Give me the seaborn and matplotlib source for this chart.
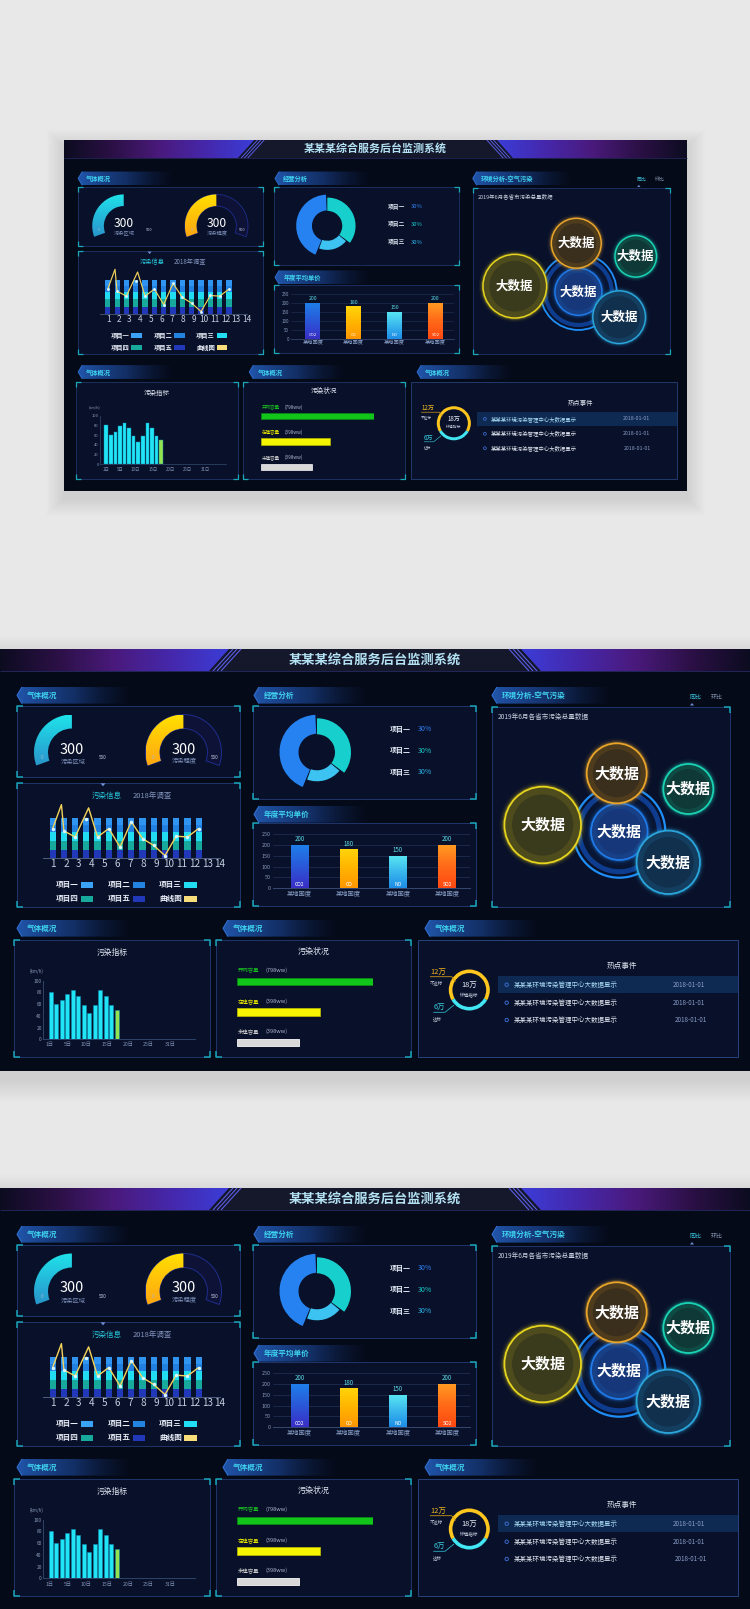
import numpy as np
import matplotlib
matplotlib.use("Agg")
import matplotlib.pyplot as plt
import seaborn as sns
import pandas as pd
from matplotlib.patches import Rectangle, Polygon, Wedge, Circle
from matplotlib.colors import LinearSegmentedColormap, to_rgba

sns.set_theme(style="dark")
plt.rcParams["font.family"] = ["Noto Sans CJK SC", "DejaVu Sans"]
plt.rcParams["axes.unicode_minus"] = False

W, H = 750, 1609

# ---------------- data ----------------
title_text = "某某某综合服务后台监测系统"
top_sections = ["气体概况", "经营分析", "环境分析-空气污染"]
mid_section = "年度平均单价"
bottom_sections = ["气体概况", "气体概况", "气体概况"]

gauge_values = [300, 300]
gauge_max = 500
gauge_names = ["污染区域", "污染程度"]

info_title = "污染信息"
info_year = "2018年调查"
info_ticks = ["1", "2", "3", "4", "5", "6", "7", "8", "9", "10", "11", "12", "13", "14"]
item1 = [19, 19, 19, 19, 19, 19, 19, 19, 19, 19, 19, 19, 19, 19]
item2 = [17, 17, 17, 17, 17, 17, 17, 17, 17, 17, 17, 17, 17, 17]
item3 = [21, 21, 21, 21, 21, 21, 21, 21, 21, 21, 21, 21, 21, 21]
item4 = [23, 23, 23, 23, 23, 23, 23, 23, 23, 23, 23, 23, 23, 23]
item5 = [20, 20, 20, 20, 20, 20, 20, 20, 20, 20, 20, 20, 20, 20]
legend_names = ["项目一", "项目二", "项目三", "项目四", "项目五", "曲线图"]
curve_pos = [0, 0.78, 1, 2, 3.2, 4, 5, 6, 7, 8, 9, 10, 11, 12, 13]
curve_vals = [73, 132, 67, 52, 124, 52, 73, 27, 90, 48, 31, 6, 54, 52, 73]
curve_dots = [73, 67, 52, 96, 52, 73, 27, 90, 48, 31, 6, 54, 52, 73]

donut_names = ["项目一", "项目二", "项目三"]
donut_shares = [44, 36, 20]
donut_pct = ["30%", "30%", "30%"]

price_cats = ["CO2", "CO", "NO", "SO2"]
price_vals = [200, 180, 150, 200]
price_regions = ["某地国度", "某地国度", "某地国度", "某地国度"]
price_ticks = [0, 50, 100, 150, 200, 250]

bubble_title = "2019年6月各省市污染总量数据"
bubble_tabs = ["同比", "环比"]
bubble_labels = ["大数据", "大数据", "大数据", "大数据", "大数据"]

index_title = "污染指标"
index_unit = "(km/h)"
index_vals = [80, 60, 67, 78, 84, 74, 58, 45, 58, 84, 74, 58, 50]
index_ticks = [0, 20, 40, 60, 80, 100]
index_days = ["1日", "5日", "10日", "15日", "20日", "25日", "31日"]

status_title = "污染状况"
status_names = ["开网容量", "在建容量", "未建容量"]
status_notes = ["(798ww)", "(398ww)", "(398ww)"]
status_fill = [100, 61, 45]

ring_vals = [12, 6]
ring_texts = ["12万", "6万"]
ring_subs = ["不达标", "达标"]
ring_total = "18万"
ring_total_label = "环境指标"

events_title = "热点事件"
events = ["某某某环境污染管理中心大数据显示", "某某某环境污染管理中心大数据显示", "某某某环境污染管理中心大数据显示"]
event_dates = ["2018-01-01", "2018-01-01", "2018-01-01"]

# ---------------- styling ----------------
PANEL_BG = "#050a18"
BOX_FC = "#09112a"
BOX_EC = "#1e3468"
CORNER = "#1aa7b8"
stack_colors = {"项目一": "#2f95f0", "项目二": "#2281e0", "项目三": "#22dcf2",
                "项目四": "#17a99b", "项目五": "#2138b9"}
legend_colors = ["#3aa3f5", "#2383e0", "#22dcf2", "#17a99b", "#2138b9", "#f7de7a"]
donut_colors = {"项目一": "#2682f0", "项目二": "#17d0cd", "项目三": "#3cc3f2"}
donut_radii = {"项目一": (18.5, 37.5), "项目二": (18, 34), "项目三": (18, 29)}
pct_colors = ["#2f7ff0", "#18c8c8", "#2ab2e6"]
price_grads = [["#1e80ea", "#2a58d8", "#3a2ec6"],
               ["#ffd60a", "#ffb400", "#ff9600"],
               ["#5ae8f2", "#3ab8ee", "#1e8ce6"],
               ["#ff9c22", "#ff6a18", "#ff4812"]]


def gcmap(colors):
    return LinearSegmentedColormap.from_list("g", colors)


fig = plt.figure(figsize=(W / 100, H / 100), dpi=100)
fig.patch.set_facecolor("#e8e8e8")
bg = fig.add_axes([0, 0, 1, 1])
bg.set_facecolor("none")
bg.axis("off")


def draw_dashboard(X0, Y0, s):
    def P(x, y):
        return (X0 + s * x, Y0 + s * y)

    def F(px):
        return px * s * 0.72

    def LW(px):
        return px * s * 0.72

    def rect(x0, y0, x1, y1):
        ax0, ay0 = P(x0, y0)
        ax1, ay1 = P(x1, y1)
        return [ax0 / W, 1 - ay1 / H, (ax1 - ax0) / W, (ay1 - ay0) / H]

    def txt(x, y, t, px, color, ha="center", va="center", weight="normal", z=20):
        X, Y = P(x, y)
        return bg.text(X, Y, t, fontsize=F(px), color=color, ha=ha, va=va,
                       fontweight=weight, zorder=z)

    def gimg(ext, colors, direction, patch, z):
        x0, y0, x1, y1 = ext
        A = P(x0, y0)
        B = P(x1, y1)
        v = np.linspace(0, 1, 256)
        img = v[None, :] if direction == "h" else v[:, None]
        im = bg.imshow(img, cmap=gcmap(colors), extent=(A[0], B[0], B[1], A[1]),
                       origin="upper", aspect="auto", interpolation="bilinear", zorder=z)
        bg.add_patch(patch)
        im.set_clip_path(patch)
        return im

    def vwedge(cx, cy, r, a1, a2, width=None, **kw):
        return Wedge(P(cx, cy), r * s, -a2, -a1,
                     width=None if width is None else width * s, **kw)

    def line(pts, color, lw, z=6):
        pp = [P(*p) for p in pts]
        bg.plot([p[0] for p in pp], [p[1] for p in pp], color=color, lw=LW(lw),
                zorder=z, solid_capstyle="butt")

    w, h = 750 * s, 422 * s
    # soft shadow, mostly below
    for k in range(12, 0, -1):
        d = k * 1.8 * s
        bg.add_patch(Rectangle((X0 - d, Y0 - d + 9 * s), w + 2 * d, h + 2 * d,
                               fc="black", ec="none", alpha=0.009, zorder=0))
    bg.add_patch(Rectangle((X0, Y0), w, h, fc=PANEL_BG, ec="none", zorder=1))

    # ---- title bar ----
    bg.add_patch(Rectangle(P(0, 0), w, 22 * s, fc="#15172b", ec="none", zorder=2))
    lcols = ["#0c0c20", "#2b1045", "#4a1a7c", "#4528ac", "#3b3dd8"]
    gimg((0, 0, 229, 22), lcols, "h",
         Polygon([P(0, 0), P(229, 0), P(209, 22), P(0, 22)], fc="none", ec="none"), 3)
    gimg((521, 0, 750, 22), lcols[::-1], "h",
         Polygon([P(521, 0), P(750, 0), P(750, 22), P(541, 22)], fc="none", ec="none"), 3)
    for off in (4, 8, 12):
        line([(229 + off, 0), (209 + off, 22)], "#5b5fe6", 1.1, 4)
        line([(521 - off, 0), (541 - off, 22)], "#5b5fe6", 1.1, 4)
    line([(0, 22), (750, 22)], "#25285e", 0.9, 4)
    txt(375, 11, title_text, 13.2, "#b3e2f2", weight="bold")

    # ---- section tabs ----
    def tab(x, y, wdt, label):
        hh = 16.6
        poly = Polygon([P(x, y + hh / 2), P(x + 5, y), P(x + wdt, y), P(x + wdt, y + hh),
                        P(x + 5, y + hh)], fc="none", ec="none")
        cols = [to_rgba("#2156ac", 1.0), to_rgba("#183c80", 0.75), to_rgba("#0f2452", 0.0)]
        gimg((x, y, x + wdt, y + hh), cols, "h", poly, 3)
        line([(x + 5, y), (x, y + hh / 2), (x + 5, y + hh)], "#3272d6", 1.0, 4)
        txt(x + 10, y + hh / 2, label, 7.6, "#3fd3f0", ha="left", weight="bold")

    tab(17, 38, 115, top_sections[0])
    tab(254, 38, 115, top_sections[1])
    tab(492, 38, 120, top_sections[2])
    tab(254, 157, 115, mid_section)
    tab(17, 271, 115, bottom_sections[0])
    tab(223, 271, 115, bottom_sections[1])
    tab(425, 271, 115, bottom_sections[2])

    # ---- boxes ----
    def box(x0, y0, x1, y1, corners=True, ec=BOX_EC):
        bg.add_patch(Rectangle(P(x0, y0), (x1 - x0) * s, (y1 - y0) * s, fc=BOX_FC,
                               ec=ec, lw=LW(1.0), zorder=2))
        if corners:
            L = 6
            for cx, cy, dx, dy in [(x0, y0, 1, 1), (x1, y0, -1, 1), (x0, y1, 1, -1), (x1, y1, -1, -1)]:
                line([(cx + dx * L, cy), (cx, cy), (cx, cy + dy * L)], CORNER, 1.5, 3)

    box(17, 57, 240, 128)
    box(17, 134, 240, 258)
    box(253, 57, 476, 150)
    box(253, 174, 476, 257)
    box(492, 58, 730, 258)
    box(14, 291, 210, 408)
    box(216, 291, 411, 408)
    box(418, 291, 738, 408, corners=False, ec="#26407a")

    # ---- gauges ----
    g_start, g_span = 200, 183
    gauge_cx = [72, 183.5]
    gauge_cols = [["#1fe3ea", "#27a7d4", "#2a76b6"], ["#ffe000", "#ffb40e", "#ff9012"]]
    for i, val in enumerate(gauge_values):
        cx, cy = gauge_cx[i], 103.5
        if i == 1:
            bg.add_patch(vwedge(cx, cy, 38, -20, 200, width=14, fc="#0d1236",
                                ec="#1f2c8c", lw=LW(1.0), zorder=3))
        a_end = g_start - val / gauge_max * g_span
        wd = vwedge(cx, cy, 38, a_end, g_start, width=14, fc="none", ec="none")
        gimg((cx - 38, cy - 38, cx + 38, cy + 38), gauge_cols[i], "v", wd, 4)
        txt(cx, 100.5, str(val), 14.5, "#ffffff", weight="medium")
        txt(cx + 1, 112.7, gauge_names[i], 6.3, "#7b8db8")
        txt(cx - 30, 108.3, "0", 4.6, "#a8b6d8")
        txt(cx + 31, 108.3, str(gauge_max), 4.6, "#c8d0e6")

    # ---- pollution info stacked bars ----
    bg.add_patch(Polygon([P(100.5, 134.3), P(105.5, 134.3), P(103, 137.3)],
                         fc="#6f8fd6", ec="none", zorder=4))
    txt(106.5, 147, info_title, 7.5, "#27c9dc")
    txt(152, 147, info_year, 7.5, "#8494bd")
    ax = fig.add_axes(rect(43.3, 150, 220, 209))
    ax.set_facecolor("none")
    order = ["项目五", "项目四", "项目三", "项目二", "项目一"]
    series = {"项目一": item1, "项目二": item2, "项目三": item3, "项目四": item4, "项目五": item5}
    cum = np.cumsum(np.array([series[n] for n in order], dtype=float), axis=0)
    for k in range(len(order) - 1, -1, -1):
        sns.barplot(x=info_ticks, y=cum[k], color=stack_colors[order[k]], width=0.55,
                    saturation=1, errorbar=None, ax=ax, linewidth=0)
    ax.plot(curve_pos, curve_vals, color="#f3d35a", lw=LW(1.4), zorder=5)
    ax.scatter(range(len(curve_dots)), curve_dots, s=(2.2 * s) ** 2 * 1.3,
               color="#d8f6ff", zorder=6, linewidths=0)
    ax.set_xlim(-0.833, 13.896)
    ax.set_ylim(0, 146)
    ax.set_xticks([(0.7 + 13.7 * j) / 12 for j in range(len(info_ticks))], info_ticks)
    ax.set_yticks([])
    ax.tick_params(axis="x", labelsize=F(10), colors="#c5cde0", length=0, pad=0.8 * s)
    ax.set(xlabel="", ylabel="")
    ax.grid(False)
    for sp in ["top", "left", "right"]:
        ax.spines[sp].set_visible(False)
    ax.spines["bottom"].set_color("#4b5b7e")
    ax.spines["bottom"].set_linewidth(LW(1.0))

    # legend
    sw_x = [81, 133, 184.3]
    rows_y = [235.5, 249.7]
    for j, name in enumerate(legend_names):
        r_, c_ = divmod(j, 3)
        x, y = sw_x[c_], rows_y[r_]
        bg.add_patch(Rectangle(P(x, y - 3), 12.3 * s, 6 * s, fc=legend_colors[j], ec="none", zorder=5))
        txt(x - 2.5, y, name, 7.6, "#e8edf7", ha="right", weight="bold")

    # ---- donut ----
    dcx, dcy = 317, 103.3
    gap = 2.5
    cw = ["项目二", "项目三", "项目一"]
    share = dict(zip(donut_names, donut_shares))
    tot = sum(share.values())
    a = 90
    for n in cw:
        sweep = share[n] / tot * (360 - 3 * gap)
        r_in, r_out = donut_radii[n]
        bg.add_patch(vwedge(dcx, dcy, r_out, a - sweep, a, width=r_out - r_in,
                            fc=donut_colors[n], ec="none", zorder=4))
        a = a - sweep - gap
    for i, (n, p) in enumerate(zip(donut_names, donut_pct)):
        y = 80.3 + 21.4 * i
        txt(390, y, n, 7.0, "#dfe6f2", ha="left", weight="bold")
        txt(418, y, p, 7.0, pct_colors[i], ha="left")

    # ---- price bars ----
    ax = fig.add_axes(rect(273, 185, 470, 239.3))
    ax.set_facecolor("none")
    sns.barplot(x=price_cats, y=price_vals, hue=price_cats, palette=[g[0] for g in price_grads],
                width=0.36, saturation=1, legend=False, errorbar=None, ax=ax, linewidth=0)
    v = np.linspace(0, 1, 256)[:, None]
    bars = sorted(ax.patches, key=lambda p: p.get_x())
    for p_, cols in zip(bars, price_grads):
        x0, bw, bh = p_.get_x(), p_.get_width(), p_.get_height()
        im = ax.imshow(v, cmap=gcmap(cols), extent=(x0, x0 + bw, 0, bh), origin="upper",
                       aspect="auto", zorder=p_.get_zorder() + 0.1)
        im.set_clip_path(p_)
    for i, (c, val) in enumerate(zip(price_cats, price_vals)):
        ax.annotate(str(val), (i, val), xytext=(0, 1.5 * s * 0.72), textcoords="offset points",
                    ha="center", va="bottom", fontsize=F(6.2), color="#5cdcea", zorder=8)
        ax.annotate(c, (i, 0), xytext=(0, 1.6 * s * 0.72), textcoords="offset points",
                    ha="center", va="bottom", fontsize=F(5.0), color="#ffffff", zorder=8)
    ax.set_xlim(-0.539, 3.465)
    ax.set_ylim(0, 250)
    ax.set_yticks(price_ticks, [str(t) for t in price_ticks])
    ax.set_xticks(range(len(price_regions)), price_regions)
    ax.tick_params(axis="y", labelsize=F(5.4), colors="#8797b8", length=0, pad=2.2 * s * 0.72)
    ax.tick_params(axis="x", labelsize=F(6.3), colors="#8aa0c8", length=0, pad=2.0 * s * 0.72)
    ax.set(xlabel="", ylabel="")
    ax.grid(False)
    ax.yaxis.grid(True, color="#1c2a4c", lw=LW(0.9))
    ax.set_axisbelow(True)
    for sp in ["top", "left", "right"]:
        ax.spines[sp].set_visible(False)
    ax.spines["bottom"].set_color("#34466e")
    ax.spines["bottom"].set_linewidth(LW(1.0))

    # ---- bubbles ----
    txt(497.7, 67.7, bubble_title, 6.6, "#c8d0e0", ha="left")
    txt(695, 48, bubble_tabs[0], 6.0, "#3ccbe6")
    txt(717, 48, bubble_tabs[1], 6.0, "#8a9ab8")
    bg.add_patch(Polygon([P(690, 56.5), P(694, 56.5), P(692, 54)], fc="#6f8fd6", ec="none", zorder=4))

    bcx, bcy = 619.3, 182.7
    bg.add_patch(Circle(P(bcx, bcy), 46 * s, fc="none", ec="#1e8ef8", lw=LW(2.2), zorder=4))
    bg.add_patch(Circle(P(bcx, bcy), 40 * s, fc="none", ec="#0e3d90", lw=LW(5), zorder=4))
    bg.add_patch(Circle(P(bcx, bcy), 37.5 * s, fc="#081634", ec="none", zorder=3.9))

    def bubble(cx, cy, r, edge, fill, label, z):
        C = P(cx, cy)
        R = r * s
        for lw_, al in [(10, 0.05), (6.5, 0.10), (4, 0.22)]:
            bg.add_patch(Circle(C, R, fc="none", ec=edge, lw=LW(lw_), alpha=al, zorder=z))
        bg.add_patch(Circle(C, R, fc=fill, ec="none", zorder=z))
        bg.add_patch(Circle(C, R * 0.9, fc="none", ec=edge, lw=LW(r * 0.2), alpha=0.12, zorder=z))
        bg.add_patch(Circle(C, R, fc="none", ec=edge, lw=LW(1.8), zorder=z))
        txt(cx, cy, label, 15, "#ffffff", weight="bold", z=30)

    bubble(bcx, bcy, 28.3, "#1f7ae8", "#16387a", bubble_labels[0], 5)
    bubble(542.7, 176, 38.3, "#e6d41e", "#3a3a1c", bubble_labels[1], 6)
    bubble(616.7, 124.3, 30, "#e8a52a", "#3a2e1c", bubble_labels[2], 7)
    bubble(688.3, 140, 25, "#1ad2b4", "#0e3936", bubble_labels[3], 8)
    bubble(668.3, 213.3, 31.7, "#2aa6dc", "#11304e", bubble_labels[4], 9)

    # ---- pollution index ----
    txt(111.7, 304.3, index_title, 7.8, "#e0e6f2")
    txt(36.7, 322, index_unit, 4.4, "#8a9aba")
    ax = fig.add_axes(rect(43.3, 331.7, 195, 390.3))
    ax.set_facecolor("none")
    df = pd.DataFrame({"day": [str(i) for i in range(len(index_vals))], "val": index_vals})
    pal = ["#21e4f4"] * (len(index_vals) - 1) + ["#94e24d"]
    sns.barplot(data=df, x="day", y="val", hue="day", palette=pal, width=0.78, saturation=1,
                legend=False, errorbar=None, ax=ax, edgecolor="#0c8fb5", linewidth=LW(0.5))
    ax.set_xlim(-1.35, 26.2)
    ax.set_ylim(0, 100)
    ax.set_yticks(index_ticks, [str(t) for t in index_ticks])
    ax.set_xticks([-0.13, 3.1, 6.4, 10.2, 14.0, 17.7, 21.7], index_days)
    ax.tick_params(axis="y", labelsize=F(4.8), colors="#8a9aba", length=0, pad=1.6 * s * 0.72)
    ax.tick_params(axis="x", labelsize=F(5.2), colors="#7f90b5", length=0, pad=3.2 * s * 0.72)
    ax.set(xlabel="", ylabel="")
    ax.grid(False)
    for sp in ["top", "right"]:
        ax.spines[sp].set_visible(False)
    for sp in ["left", "bottom"]:
        ax.spines[sp].set_color("#2b4266")
        ax.spines[sp].set_linewidth(LW(1.0))

    # ---- status bars ----
    txt(313.3, 302.7, status_title, 8, "#e0e6f2")
    ax = fig.add_axes(rect(237.3, 317.25, 373.3, 408.75))
    ax.set_facecolor("none")
    sns.barplot(x=status_fill, y=status_names, hue=status_names, orient="h",
                palette=["#12c51b", "#f6f500", "#d8d8d8"], width=0.25, saturation=1,
                legend=False, errorbar=None, ax=ax, linewidth=LW(0.8))
    edges = ["#0a8a12", "#b8b800", "#ffffff"]
    for p_ in ax.patches:
        idx = int(round(p_.get_y() + p_.get_height() / 2))
        p_.set_edgecolor(edges[idx])
    lab_cols = ["#18c020", "#e8e800", "#d0d0d0"]
    for i, (n, note) in enumerate(zip(status_names, status_notes)):
        ax.text(0.5, i - 0.36, n, color=lab_cols[i], fontsize=F(5.4), va="center", ha="left")
        ax.text(20.5, i - 0.36, note, color="#a8b4cc", fontsize=F(5.6), va="center", ha="left")
    ax.set_xlim(0, 100)
    ax.set_ylim(2.5, -0.5)
    ax.axis("off")

    # ---- ring ----
    rcx, rcy = 469.3, 341
    tot = sum(ring_vals)
    sw0 = ring_vals[0] / tot * 360
    a0 = 90 + sw0 / 2
    bg.add_patch(vwedge(rcx, rcy, 20.5, a0 - sw0, a0, width=3.6, fc="#ffc61e", ec="none", zorder=4))
    bg.add_patch(vwedge(rcx, rcy, 20.5, a0 - 360, a0 - sw0, width=3.6, fc="#42e6f2", ec="none", zorder=4))
    txt(rcx, 336, ring_total, 7.4, "#e8edf7")
    txt(rcx, 345.3, ring_total_label, 4.6, "#c8d0e0")
    txt(430, 322.7, ring_texts[0], 7.4, "#f2b620", ha="left")
    txt(430, 333.3, ring_subs[0], 4.4, "#c8d0e0", ha="left")
    line([(430, 327.7), (451.7, 327.7), (455.5, 332.5)], "#d49a18", 0.8)
    txt(433.3, 358.3, ring_texts[1], 7.4, "#3ccfe0", ha="left")
    txt(433.3, 369.3, ring_subs[1], 4.4, "#c8d0e0", ha="left")
    line([(433.3, 363.3), (445, 363.3), (454, 356)], "#2bb8c8", 0.8)

    # ---- events ----
    txt(621.7, 316.7, events_title, 7.7, "#dfe5f0")
    bg.add_patch(Rectangle(P(497.7, 327), (737.5 - 497.7) * s, 16.7 * s, fc="#0f2a52", ec="none", zorder=3))
    ev_y = [335.7, 353.7, 371]
    ev_cols = ["#a8dcf5", "#e0e6f0", "#e0e6f0"]
    date_x = [689.3, 689.3, 690.7]
    for i, (e, d) in enumerate(zip(events, event_dates)):
        bg.add_patch(Circle(P(506.7, ev_y[i]), 1.7 * s, fc="none", ec="#3d6fd8", lw=LW(0.9), zorder=5))
        txt(513.3, ev_y[i], e, 6.5, ev_cols[i], ha="left")
        txt(date_x[i], ev_y[i], d, 6.3, "#8a9cc8")


draw_dashboard(64, 140, 623 / 750)
draw_dashboard(0, 649, 1.0)
draw_dashboard(0, 1188, 1.0)

bg.set_xlim(0, W)
bg.set_ylim(H, 0)
fig.savefig("out.png", dpi=100, facecolor=fig.get_facecolor())
